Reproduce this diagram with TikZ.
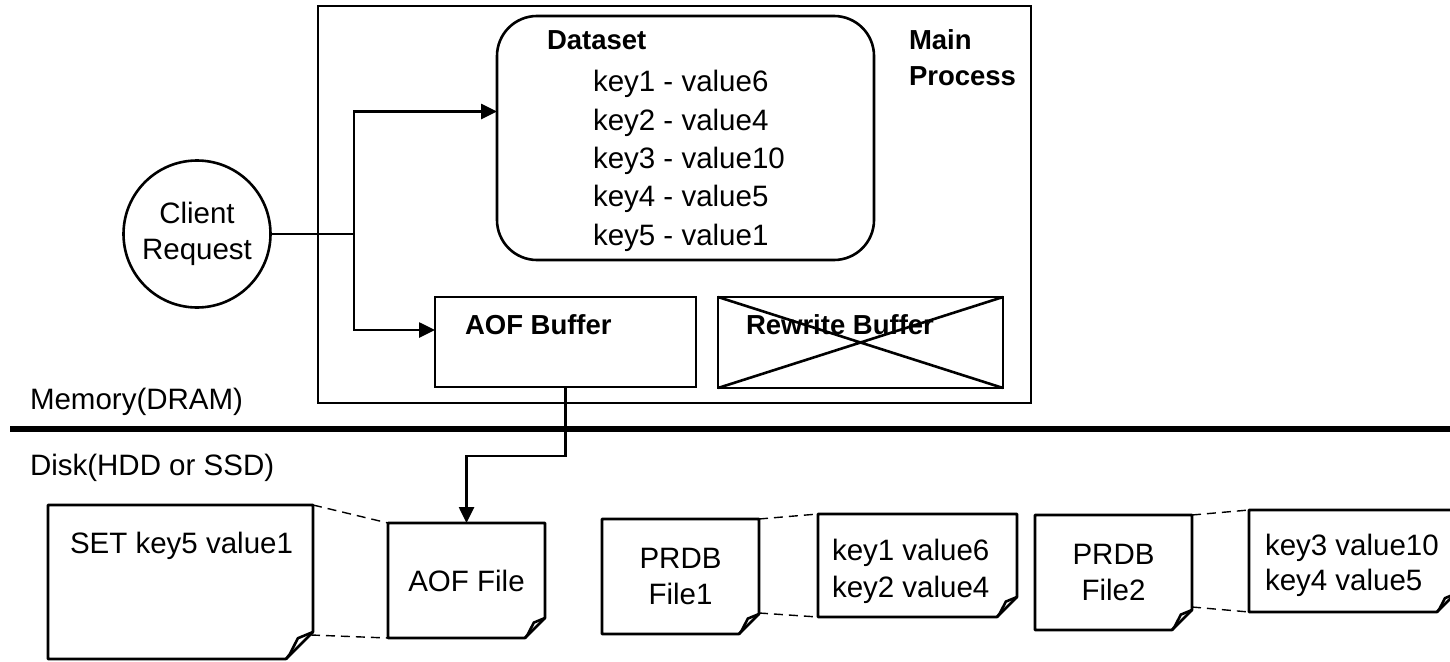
\documentclass[tikz,border=0pt]{standalone}
\usepackage{fontspec}
\setmainfont{Liberation Sans}
\usetikzlibrary{arrows.meta,calc}

\tikzset{
  every node/.style={inner sep=0pt, outer sep=0pt},
  txt/.style={font=\fontsize{29.5}{36}\selectfont},
  btxt/.style={font=\fontsize{27.5}{34}\selectfont\bfseries},
  frame/.style={draw, line width=2.6pt},
  corner/.style={anchor=north west},
  sheet/.style={anchor=north west, draw=none},
  conn/.style={line width=2.6pt},
  arr/.style={-{Triangle[length=16pt,width=15pt]}},
  zoomline/.style={line width=1.4pt, dash pattern=on 9pt off 6pt},
  divider/.style={line width=6.5pt},
}

% outline of a sheet with a curled lower right corner
\newcommand\curlframe[2]{%
  \draw[frame, line join=round] (#1.north west) -- (#1.north east)
    -- ([yshift=#2]#1.south east) -- ([xshift=-#2]#1.south east)
    -- (#1.south west) -- cycle;
  \draw[frame, line join=round] ([yshift=#2]#1.south east)
    -- ([xshift=-0.56*#2, yshift=0.77*#2]#1.south east)
    -- ([xshift=-0.86*#2, yshift=0.18*#2]#1.south east)
    -- ([xshift=-#2]#1.south east);
}

\begin{document}
\begin{tikzpicture}[x=1pt,y=-1pt]
\useasboundingbox (0,0) rectangle (1450,661);
\fill[white] (0,0) rectangle (1450,661);

% ---------- memory side ----------
\node[frame, corner, minimum width=713pt, minimum height=397pt] (main) at (318,6) {};
\node[btxt, anchor=base west] (mainlbl1) at (909,50) {Main};
\node[btxt, anchor=base west] (mainlbl2) at (909,85) {Process};

\node[frame, corner, rounded corners=40pt, minimum width=377pt, minimum height=244pt] (dataset) at (497,16) {};
\node[btxt, anchor=base west] (dstitle) at (547,50) {Dataset};
\foreach \t [count=\i] in {key1 - value6, key2 - value4, key3 - value10, key4 - value5, key5 - value1}
  \node[txt, anchor=base west] (kv\i) at (593,{92+(\i-1)*38.3}) {\t};

\node[frame, corner, minimum width=261pt, minimum height=90pt] (aofbuf) at (435,297) {};
\node[btxt, anchor=base west] (aofbuflbl) at (465,334) {AOF Buffer};

\node[frame, corner, minimum width=285pt, minimum height=91pt] (rwbuf) at (718,297) {};
\node[btxt, anchor=base west] (rwbuflbl) at (746,334) {Rewrite Buffer};
\draw[frame] (rwbuf.north west) -- (rwbuf.south east)
             (rwbuf.south west) -- (rwbuf.north east);

\node[frame, circle, minimum size=147pt, txt, align=center] (client) at (197,234) {Client\\Request};

\coordinate (split) at (354,234);
\draw[conn] (client.east) -- (split);
\draw[conn, arr] (split) |- ([yshift=26.5pt]dataset.west);
\draw[conn, arr] (split) |- ([yshift=12pt]aofbuf.west);

% ---------- memory / disk boundary ----------
\node[txt, anchor=base west] (memlbl) at (30,409) {Memory(DRAM)};
\coordinate (divL) at (10,429);
\coordinate (divR) at (1460,429);
\draw[divider] (divL) -- (divR);
\node[txt, anchor=base west] (disklbl) at (30,475) {Disk(HDD or SSD)};

% ---------- disk side ----------
\node[sheet, minimum width=265pt, minimum height=154pt] (setfile) at (48,505) {};
\curlframe{setfile}{27pt}
\node[txt, anchor=base west] (setlbl) at (70,553) {SET key5 value1};

\node[sheet, minimum width=157pt, minimum height=115pt, txt, align=center] (aoffile) at (388,523) {AOF File};
\curlframe{aoffile}{20pt}

\node[sheet, minimum width=157pt, minimum height=115pt, txt, align=center] (prdb1) at (602,519) {PRDB\\File1};
\curlframe{prdb1}{20pt}

\node[sheet, minimum width=199pt, minimum height=103pt] (snap1) at (818,514) {};
\curlframe{snap1}{20pt}
\node[txt, anchor=base west] (snap1a) at (832,560) {key1 value6};
\node[txt, anchor=base west] (snap1b) at (832,597) {key2 value4};

\node[sheet, minimum width=157pt, minimum height=115pt, txt, align=center] (prdb2) at (1035,515) {PRDB\\File2};
\curlframe{prdb2}{20pt}

\node[sheet, minimum width=206pt, minimum height=102pt] (snap2) at (1249,510) {};
\curlframe{snap2}{18pt}
\node[txt, anchor=base west] (snap2a) at (1265,555) {key3 value10};
\node[txt, anchor=base west] (snap2b) at (1265,590) {key4 value5};

% buffer flushed to the append-only file
\coordinate (bend) at (0,456);
\draw[conn, arr] (aofbuf.south) |- (aoffile.north |- bend) -- (aoffile.north);

% dashed lines opening each file onto its contents
\draw[zoomline] (setfile.north east) -- (aoffile.north west);
\draw[zoomline] ([xshift=-2pt, yshift=24pt]setfile.south east) -- (aoffile.south west);
\draw[zoomline] (prdb1.north east) -- (snap1.north west);
\draw[zoomline] ([yshift=21pt]prdb1.south east) -- (snap1.south west);
\draw[zoomline] (prdb2.north east) -- (snap2.north west);
\draw[zoomline] ([yshift=23pt]prdb2.south east) -- (snap2.south west);
\end{tikzpicture}
\end{document}
